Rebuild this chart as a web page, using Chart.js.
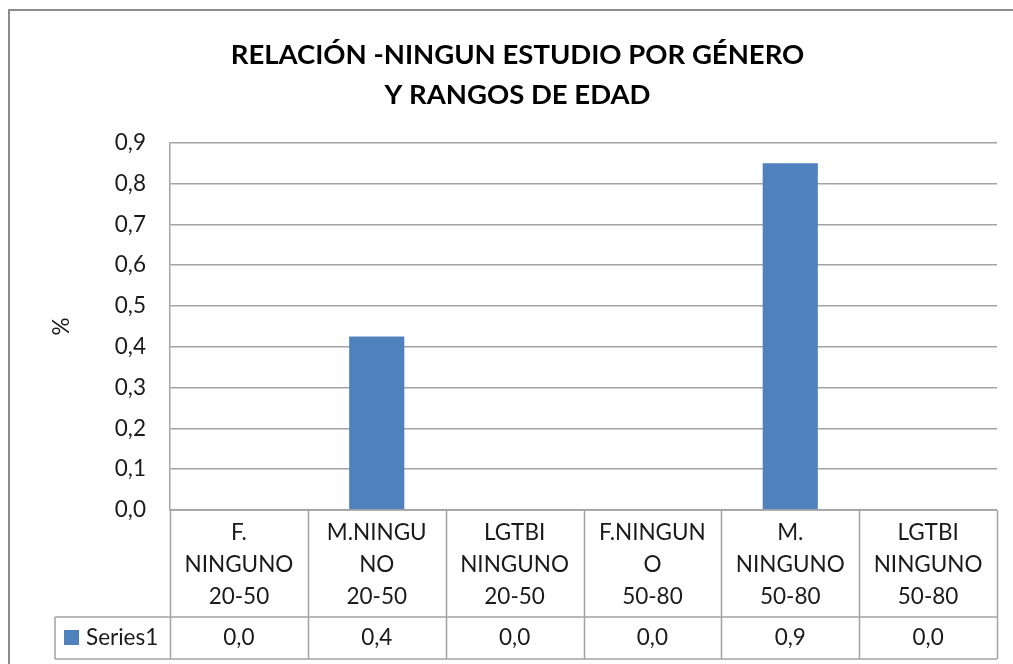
<!DOCTYPE html>
<html>
<head>
<meta charset="utf-8">
<script src="https://cdn.jsdelivr.net/npm/chart.js@4"></script>
<style>
	html, body { margin: 0; padding: 0; background: #fff; }
	canvas { display: block; }
</style>
</head>
<body>
<canvas id="chart" width="1013" height="664"></canvas>
<script>
// chart data
const titleLines = ['RELACIÓN -NINGUN ESTUDIO POR GÉNERO', 'Y RANGOS DE EDAD'];
const categories = [
	['F.', 'NINGUNO', '20-50'],
	['M.NINGU', 'NO', '20-50'],
	['LGTBI', 'NINGUNO', '20-50'],
	['F.NINGUN', 'O', '50-80'],
	['M.', 'NINGUNO', '50-80'],
	['LGTBI', 'NINGUNO', '50-80']
];
const seriesName = 'Series1';
const series1 = [0, 0.425, 0, 0, 0.85, 0];
const yMin = 0;
const yMax = 0.9;
const yStep = 0.1;
const yTitle = '%';

const FONT = 'Lato';
const TEXT = '#1a1a1a';
const LINE = '#a3a3a3';
const LABEL_SIZE = 22.5;

function fmt(v) {
	return (Math.round(v * 10 + 1e-9) / 10).toFixed(1).replace('.', ',');
}

// frame + data table under the plot, like the excel one
const tablePlugin = {
	id: 'dataTable',
	afterDraw(chart) {
		const ctx = chart.ctx;
		const x = chart.scales.x;
		const area = chart.chartArea;
		const n = categories.length;
		const colW = (x.right - x.left) / n;
		const headTop = area.bottom;
		const headBottom = headTop + 107;
		const rowBottom = headBottom + 42;
		const legendLeft = 55;

		ctx.save();
		ctx.strokeStyle = LINE;
		ctx.lineWidth = 1.5;
		ctx.beginPath();
		// verticals
		for (let i = 0; i <= n; i++) {
			const px = Math.round(x.left + i * colW) + 0.5;
			ctx.moveTo(px, headTop);
			ctx.lineTo(px, rowBottom);
		}
		ctx.moveTo(legendLeft, headBottom);
		ctx.lineTo(legendLeft, rowBottom);
		// horizontals
		ctx.moveTo(x.left, headTop);
		ctx.lineTo(x.right, headTop);
		ctx.moveTo(legendLeft, headBottom);
		ctx.lineTo(x.right, headBottom);
		ctx.moveTo(legendLeft, rowBottom);
		ctx.lineTo(x.right, rowBottom);
		ctx.stroke();

		// legend key + values
		const midY = (headBottom + rowBottom) / 2;
		const ds = chart.data.datasets[0];
		ctx.fillStyle = ds.backgroundColor;
		ctx.fillRect(legendLeft + 9, midY - 8, 15, 15);
		ctx.fillStyle = TEXT;
		ctx.font = `${LABEL_SIZE}px ${FONT}`;
		ctx.textBaseline = 'middle';
		ctx.textAlign = 'left';
		ctx.fillText(ds.label, legendLeft + 31, midY);
		ctx.textAlign = 'center';
		ds.data.forEach((v, i) => {
			ctx.fillText(fmt(v), x.getPixelForValue(i), midY);
		});

		// outer chart border
		ctx.strokeStyle = '#8c8c8c';
		ctx.lineWidth = 2;
		ctx.strokeRect(9, 10, 1100, 800);
		ctx.restore();
	}
};

new Chart(document.getElementById('chart'), {
	type: 'bar',
	data: {
		labels: categories,
		datasets: [{
			label: seriesName,
			data: series1,
			backgroundColor: '#4F81BD',
			barPercentage: 0.4,
			categoryPercentage: 1.0
		}]
	},
	options: {
		responsive: false,
		animation: false,
		layout: { padding: { left: 38, right: 16, top: 0, bottom: 0 } },
		plugins: {
			legend: { display: false },
			tooltip: { enabled: false },
			title: {
				display: true,
				text: titleLines,
				color: '#000',
				font: { family: FONT, weight: 'bold', size: 27.5, lineHeight: 1.45 },
				padding: { top: 35, bottom: 28 }
			}
		},
		scales: {
			x: {
				grid: { display: false },
				border: { display: false },
				ticks: {
					color: TEXT,
					font: { family: FONT, size: LABEL_SIZE, lineHeight: 1.42 },
					padding: -1,
					maxRotation: 0,
					autoSkip: false
				},
				afterFit(scale) { scale.height = 154; }
			},
			y: {
				min: yMin,
				max: yMax,
				ticks: {
					stepSize: yStep,
					color: TEXT,
					font: { family: FONT, size: LABEL_SIZE },
					padding: 24,
					callback: v => fmt(v)
				},
				grid: { color: LINE, lineWidth: 1.5, drawTicks: false },
				border: { display: true, color: LINE, width: 1.5 },
				title: {
					display: true,
					text: yTitle,
					color: TEXT,
					font: { family: FONT, size: LABEL_SIZE },
					padding: { top: 10, bottom: 0 }
				},
				afterFit(scale) { scale.width = 132; }
			}
		}
	},
	plugins: [tablePlugin]
});
</script>
</body>
</html>
